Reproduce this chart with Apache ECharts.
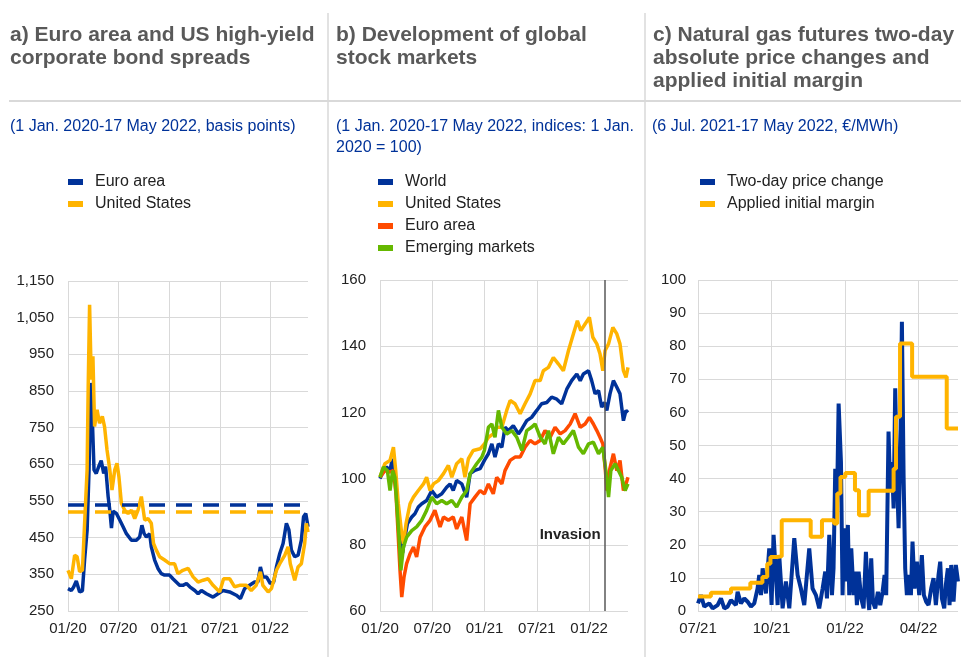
<!DOCTYPE html>
<html>
<head>
<meta charset="utf-8">
<title>Market stress panels</title>
<script src="https://cdn.jsdelivr.net/npm/echarts@6/dist/echarts.min.js"></script>
<style>
  html, body { margin: 0; padding: 0; background: #fff; }
  #chart { width: 961px; height: 657px; }
</style>
</head>
<body>
<div id="chart"></div>
<script>
// x values are days: panels a/b from 1 Jan 2020, panel c from 1 Jul 2021
const labelsA = ['01/20', '07/20', '01/21', '07/21', '01/22']
const labelsB = ['01/20', '07/20', '01/21', '07/21', '01/22']
const labelsC = ['07/21', '10/21', '01/22', '04/22']

// a) high-yield spreads, basis points
const euroSpread = [[0,311],[12,306],[20,315],[30,332],[42,302],[52,305],[60,390],[69,470],[76,635],[82,872],[88,770],[94,635],[102,625],[111,644],[120,660],[129,625],[136,644],[145,562],[151,525],[157,476],[163,522],[175,516],[187,498],[199,480],[211,461],[229,443],[247,443],[259,452],[267,484],[275,461],[283,452],[295,461],[301,425],[313,389],[325,366],[337,352],[349,348],[367,348],[379,338],[391,329],[403,320],[415,320],[428,325],[440,316],[458,306],[470,297],[482,306],[500,297],[524,288],[542,297],[560,306],[584,302],[608,293],[623,284],[638,311],[656,320],[674,329],[686,329],[695,370],[704,343],[717,343],[731,325],[743,329],[753,370],[765,407],[777,434],[789,489],[798,471],[807,416],[819,398],[831,402],[843,443],[851,507],[859,516],[867,480]]
const usSpread = [[0,361],[12,338],[24,402],[33,398],[42,357],[52,361],[60,489],[69,635],[73,863],[78,1085],[84,881],[90,945],[96,753],[105,799],[114,762],[124,781],[132,753],[141,689],[151,635],[159,580],[169,635],[177,653],[184,616],[193,543],[205,525],[217,516],[229,525],[241,502],[253,525],[265,562],[277,498],[289,502],[301,489],[309,434],[319,416],[331,398],[349,389],[367,379],[385,379],[397,352],[415,361],[434,366],[452,343],[470,329],[488,334],[506,338],[524,320],[548,302],[562,338],[584,338],[602,316],[620,320],[644,320],[662,306],[680,320],[695,357],[704,320],[723,302],[735,311],[753,361],[765,379],[783,402],[795,425],[803,379],[819,334],[831,370],[843,379],[855,434],[861,489],[867,465]]
const euroAvg = 540
const usAvg = 522

// b) stock indices, 1 Jan 2020 = 100
const world = [[0,100],[12,102.4],[23,103.5],[35,102.4],[43,106],[52,101.5],[61,92.4],[70,84.3],[79,77.5],[87,82.3],[96,86.4],[111,88.4],[122,89.4],[134,91.4],[146,92.4],[163,93.4],[181,96.4],[198,94.4],[216,95.4],[233,97.4],[245,98.4],[256,96.4],[268,99.4],[286,98.4],[303,94.4],[315,101.5],[332,102.5],[350,103],[365,105.5],[379,107.5],[391,110.5],[402,106.5],[414,110.5],[426,109.5],[437,115.5],[449,114.5],[466,116],[484,113.5],[496,115],[513,117.5],[530,118.5],[548,120.6],[565,122.6],[583,123],[600,124.6],[618,124],[635,122.6],[653,127],[670,129.6],[688,131.6],[700,129.6],[711,131.6],[729,132.6],[740,129.6],[752,125.6],[764,126.6],[775,121.6],[785,123],[793,120.6],[804,125.6],[816,129.6],[828,127.6],[839,125.6],[851,117.5],[860,120.6],[867,120]]
const unitedStates = [[0,100.5],[17,104.5],[35,105.5],[47,109.5],[55,102.4],[64,92.4],[76,83.3],[82,80.3],[91,86.4],[105,92.4],[117,94.4],[134,96.4],[152,98.4],[163,100.4],[175,96.4],[187,98.4],[204,99.4],[222,101.5],[239,104],[251,100.4],[268,104.5],[286,106],[297,100.4],[309,106],[326,108.5],[350,109],[365,110.5],[379,112.5],[396,113.5],[408,115.5],[426,115.5],[443,120.6],[455,123.6],[472,122.6],[490,119.6],[507,122.6],[525,125.6],[542,129.6],[560,129.6],[571,132.6],[589,133.6],[606,136.6],[624,134.6],[641,132.6],[659,138.7],[676,143.7],[690,147.7],[702,144.7],[717,146.7],[732,148.7],[744,142.7],[758,140.7],[769,137.7],[779,132.6],[787,138.7],[799,140.7],[814,145.7],[828,143.7],[839,140.7],[851,132.6],[860,130.6],[867,133.6]]
const euroArea = [[0,100.4],[17,102.4],[35,102],[47,102.4],[56,95.4],[64,82.3],[70,72.3],[76,64.2],[84,70.3],[93,74.3],[105,77.3],[117,79.3],[128,76.3],[140,82.3],[157,85.4],[175,87.4],[192,90.4],[210,85.4],[222,88.4],[239,87.4],[256,88.4],[268,84.8],[286,88.4],[303,81.3],[315,92.4],[332,94.4],[350,96.4],[365,95.4],[379,98.4],[396,95.4],[408,100.4],[426,98.4],[437,102.4],[455,105.5],[472,106.5],[490,106.5],[507,109.5],[525,111.5],[542,110.5],[560,111.5],[577,114.5],[595,112.5],[612,115.5],[630,113.5],[647,114.5],[665,116.5],[682,119.6],[700,115.5],[717,116.5],[732,118.5],[746,116.5],[758,114.5],[769,112.5],[779,110.5],[788,102.4],[793,96.4],[802,102.4],[816,107.5],[828,102.4],[839,105.5],[851,96.4],[860,98.4],[867,100.4]]
const emerging = [[0,100.4],[12,103.5],[26,102.4],[35,96.4],[44,102.4],[52,100.4],[61,89.4],[68,80.3],[73,72.3],[82,79.3],[93,82.3],[111,84.3],[128,85.4],[146,87.4],[163,90.4],[181,94.4],[198,92.4],[216,93.4],[233,92.4],[251,93.4],[268,91.4],[286,94.4],[303,96.4],[315,101.5],[338,104.5],[356,106.5],[365,108.5],[379,115.5],[391,116.5],[402,112.5],[414,120.6],[426,115.5],[443,113.5],[461,114.5],[478,112.5],[496,108.5],[513,114.5],[530,115.5],[542,116.5],[560,112.5],[577,110.5],[589,114.5],[606,107.5],[624,112.5],[641,110.5],[659,112.5],[676,114.5],[694,109.5],[711,107.5],[729,110.5],[746,111],[764,107.5],[779,109.5],[788,103.5],[799,94.4],[807,102.4],[822,104.5],[834,102.4],[845,100.4],[857,96.4],[867,98.4]]
const invasionDay = 785
const invasionLabelLevel = 83

// c) natural gas futures, EUR/MWh
const priceChange = [[0,2.3],[3.7,4.8],[7.8,1.3],[14,2.3],[18.2,0.8],[24.4,1.8],[28.5,3.8],[32.7,0.8],[36.8,1.3],[40.9,3.3],[47.1,1.8],[49.2,5.8],[53.3,2.3],[57.5,3.8],[61.6,2.8],[65.8,1.3],[69.9,2.3],[74,6.8],[76.1,10.9],[78.2,4.8],[80.3,12.9],[84.4,5.3],[88.5,18.9],[91.4,1.8],[93.9,23],[96.8,10.9],[98.9,1.8],[100.9,16.9],[105.1,0.8],[109.2,8.9],[113.4,0.8],[119.6,22],[123.7,10.9],[127.8,6.8],[132,1.8],[138.2,18.9],[142.3,6.8],[146.5,4.8],[150.6,0.8],[154.8,6.8],[158.1,11.9],[160.2,3.8],[163.1,23],[166.4,4.8],[168.4,12.9],[170.5,43],[172.6,31],[174.7,62.7],[177.6,45],[179.6,4.8],[181.7,25],[183.8,8.9],[186.2,26],[187.9,4.8],[190.4,18.9],[193.3,4.8],[195.4,11.9],[197.4,1.8],[199.5,11.9],[202.8,3.8],[205.7,0.8],[208.6,17.9],[211.1,4.8],[212.7,0.3],[215.2,15.9],[217.3,2.8],[220.2,0.8],[223.5,5.8],[226.4,1.8],[229.3,5.8],[231.8,10.9],[233.8,4.8],[236.7,54.2],[238.8,36],[240.9,45],[243,31],[245,67.3],[247.1,41],[249.2,25],[251.2,45],[253.3,87.4],[255.4,41],[257.4,12.9],[259.5,4.8],[261.6,10.9],[264.5,4.8],[266.5,21],[269,6.8],[271.9,14.9],[274.8,4.8],[278.1,16.9],[280.6,4.8],[283.5,2.8],[286.4,1.8],[289.7,6.8],[292.6,9.9],[295.5,1.8],[298.8,10.9],[300.9,14.9],[303,3.8],[305.9,0.8],[307.9,7.9],[310.4,12.9],[312.5,1.8],[314.6,13.9],[317.5,2.8],[320.3,13.9],[323,8.9]]
const initialMargin = [[0,4.4],[16,5.5],[41,6.8],[65,8.5],[80,10.3],[86,14.3],[90,16.3],[98,16.5],[104,27.4],[140,22.4],[154,27.4],[169,26.4],[173,35.5],[177,40.5],[183,41.7],[195,36.5],[200,28.9],[212,36.3],[243,43],[246,58.7],[251,80.8],[266,70.8],[309,55.1],[323,55.1]]

const BLUE = '#003299'
const YELLOW = '#ffb400'
const RED = '#ff4b00'
const GREEN = '#65b800'
const GRID_GREY = '#d9d9d9'
const TEXT = '#222'
const FONT = '"Liberation Sans", Arial, sans-serif'

function dateAxis(gridIndex, max, step, labels) {
  return {
    type: 'value', gridIndex, min: 0, max, interval: step,
    axisLine: { show: false }, axisTick: { show: false },
    splitLine: { show: true, showMaxLine: false, lineStyle: { color: GRID_GREY, width: 1 } },
    axisLabel: {
      color: TEXT, fontSize: 15, fontFamily: FONT, margin: 10, showMaxLabel: false,
      formatter: v => {
        const i = Math.round(v / step)
        return Math.abs(v - i * step) < 0.5 ? (labels[i] || '') : ''
      }
    }
  }
}

function valueAxis(gridIndex, min, max, interval, margin, fmt) {
  return {
    type: 'value', gridIndex, min, max, interval,
    axisLine: { show: false }, axisTick: { show: false },
    splitLine: { lineStyle: { color: GRID_GREY, width: 1 } },
    axisLabel: { color: TEXT, fontSize: 15, fontFamily: FONT, margin, formatter: fmt }
  }
}

function line(name, xi, data, color, extra) {
  return Object.assign({
    name, type: 'line', xAxisIndex: xi, yAxisIndex: xi, data, showSymbol: false,
    lineStyle: { color, width: 3.5 }, itemStyle: { color }, silent: true
  }, extra || {})
}

function legend(left, names) {
  return {
    orient: 'vertical', left, top: 174, padding: 0, itemGap: 6,
    icon: 'rect', itemWidth: 15, itemHeight: 6,
    data: names,
    formatter: n => n.split('|')[1],
    textStyle: { color: TEXT, fontSize: 16, fontFamily: FONT, lineHeight: 16, padding: [0, 0, 0, 7] }
  }
}

const titleStyle = { fontSize: 21, fontWeight: 'bold', color: '#595959', fontFamily: FONT, lineHeight: 23 }
const subStyle = { fontSize: 16, fontWeight: 'normal', color: BLUE, fontFamily: FONT, lineHeight: 21 }

const chart = echarts.init(document.getElementById('chart'))
chart.setOption({
  animation: false,
  backgroundColor: '#fff',
  title: [
    { left: 10, top: 24, padding: 0, text: 'a) Euro area and US high-yield\ncorporate bond spreads', textStyle: titleStyle },
    { left: 336, top: 24, padding: 0, text: 'b) Development of global\nstock markets', textStyle: titleStyle },
    { left: 653, top: 24, padding: 0, text: 'c) Natural gas futures two-day\nabsolute price changes and\napplied initial margin', textStyle: titleStyle },
    { left: 10, top: 116, padding: 0, text: '(1 Jan. 2020-17 May 2022, basis points)', textStyle: subStyle },
    { left: 336, top: 116, padding: 0, text: '(1 Jan. 2020-17 May 2022, indices: 1 Jan.\n2020 = 100)', textStyle: subStyle },
    { left: 652, top: 116, padding: 0, text: '(6 Jul. 2021-17 May 2022, €/MWh)', textStyle: subStyle }
  ],
  legend: [
    legend(68, ['a|Euro area', 'a|United States']),
    legend(378, ['b|World', 'b|United States', 'b|Euro area', 'b|Emerging markets']),
    legend(700, ['c|Two-day price change', 'c|Applied initial margin'])
  ],
  graphic: [
    { type: 'line', silent: true, shape: { x1: 328, y1: 13, x2: 328, y2: 657 }, style: { stroke: GRID_GREY, lineWidth: 1.5 } },
    { type: 'line', silent: true, shape: { x1: 645, y1: 13, x2: 645, y2: 657 }, style: { stroke: GRID_GREY, lineWidth: 1.5 } },
    { type: 'line', silent: true, shape: { x1: 9, y1: 101, x2: 961, y2: 101 }, style: { stroke: GRID_GREY, lineWidth: 2 } }
  ],
  grid: [
    { left: 68, top: 281, width: 240, height: 330 },
    { left: 380, top: 280, width: 248, height: 331 },
    { left: 698, top: 280, width: 260, height: 331 }
  ],
  xAxis: [
    dateAxis(0, 867, 182.75, labelsA),
    dateAxis(1, 867, 182.75, labelsB),
    dateAxis(2, 323, 91.33, labelsC)
  ],
  yAxis: [
    valueAxis(0, 250, 1150, 100, 14, v => v.toLocaleString('en-US')),
    valueAxis(1, 60, 160, 20, 14),
    valueAxis(2, 0, 100, 10, 12)
  ],
  series: [
    line('a|Euro area', 0, euroSpread, BLUE, {
      markLine: {
        silent: true, symbol: 'none', label: { show: false },
        lineStyle: { color: BLUE, width: 3.5, type: [16, 11] },
        data: [{ yAxis: euroAvg }]
      }
    }),
    line('a|United States', 0, usSpread, YELLOW, {
      markLine: {
        silent: true, symbol: 'none', label: { show: false },
        lineStyle: { color: YELLOW, width: 3.5, type: [16, 11] },
        data: [{ yAxis: usAvg }]
      }
    }),
    line('b|World', 1, world, BLUE, {
      markLine: {
        silent: true, symbol: 'none', label: { show: false },
        lineStyle: { color: '#595959', width: 1.5, type: 'solid' },
        data: [{ xAxis: invasionDay }]
      },
      markPoint: {
        silent: true, symbol: 'circle', symbolSize: 0,
        data: [{ coord: [invasionDay, invasionLabelLevel] }],
        label: { show: true, position: 'left', distance: 4, formatter: 'Invasion', color: TEXT, fontWeight: 'bold', fontSize: 15, fontFamily: FONT }
      }
    }),
    line('b|United States', 1, unitedStates, YELLOW),
    line('b|Euro area', 1, euroArea, RED),
    line('b|Emerging markets', 1, emerging, GREEN),
    line('c|Two-day price change', 2, priceChange, BLUE, { lineStyle: { color: BLUE, width: 4 } }),
    line('c|Applied initial margin', 2, initialMargin, YELLOW, { step: 'end', lineStyle: { color: YELLOW, width: 4 } })
  ]
})
window.addEventListener('resize', () => chart.resize())
</script>
</body>
</html>
